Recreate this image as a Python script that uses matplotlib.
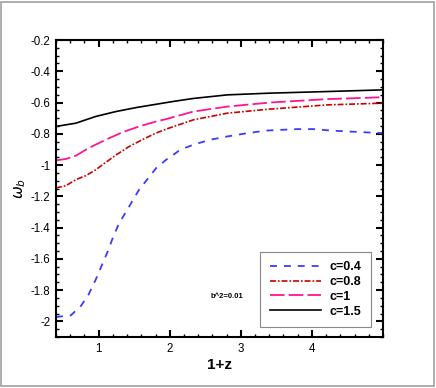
import numpy as np
import matplotlib
matplotlib.use("Agg")
import matplotlib.pyplot as plt
from matplotlib.patches import Rectangle
from matplotlib.ticker import MultipleLocator

plt.rcParams['font.family'] = ['Liberation Sans', 'DejaVu Sans']
plt.rcParams['lines.scale_dashes'] = False

# values
z_c04 = [0.40, 0.61, 0.75, 0.86, 0.96, 1.03, 1.13, 1.20, 1.29, 1.39, 1.50, 1.57,
         1.81, 1.95, 2.15, 2.33, 2.57, 2.81, 3.09, 3.37, 3.79, 4.02, 4.26, 4.50,
         4.82, 5.0]
w_c04 = [-1.972, -1.961, -1.902, -1.827, -1.732, -1.657, -1.551, -1.465, -1.370,
         -1.296, -1.210, -1.157, -1.019, -0.966, -0.902, -0.870, -0.838, -0.817,
         -0.796, -0.779, -0.770, -0.770, -0.779, -0.785, -0.792, -0.796]

z_c08 = [0.40, 0.54, 0.68, 0.82, 0.96, 1.10, 1.25, 1.43, 1.63, 1.81, 1.95, 2.33,
         2.81, 3.41, 4.22, 5.0]
w_c08 = [-1.146, -1.132, -1.093, -1.068, -1.030, -0.983, -0.934, -0.881, -0.834,
         -0.795, -0.770, -0.711, -0.668, -0.642, -0.615, -0.604]

z_c10 = [0.40, 0.54, 0.68, 0.86, 1.10, 1.34, 1.57, 1.81, 1.95, 2.33, 2.81, 3.41,
         4.22, 5.0]
w_c10 = [-0.970, -0.961, -0.940, -0.891, -0.838, -0.789, -0.753, -0.721, -0.706,
         -0.658, -0.626, -0.600, -0.578, -0.566]

z_c15 = [0.40, 0.68, 0.96, 1.25, 1.53, 1.81, 2.05, 2.33, 2.81, 3.41, 4.19, 5.0]
w_c15 = [-0.753, -0.732, -0.689, -0.657, -0.632, -0.611, -0.593, -0.574, -0.551,
         -0.540, -0.530, -0.519]

labels = ['c=0.4', 'c=0.8', 'c=1', 'c=1.5']

fig = plt.figure(figsize=(4.36, 3.88), dpi=100)
ax = fig.add_axes([0.1284, 0.1314, 0.75, 0.7655])

# dash lengths in points (1 px = 0.72 pt at 100 dpi)
ax.plot(z_c04, w_c04, color='#3b3bff', lw=1.3, dashes=(5.0, 5.0), label=labels[0])
ax.plot(z_c08, w_c08, color='#cc0000', lw=1.2, dashes=(4.3, 1.4, 1.2, 1.4), label=labels[1])
ax.plot(z_c10, w_c10, color='#ff1493', lw=1.3, dashes=(10.5, 3.0), label=labels[2])
ax.plot(z_c15, w_c15, color='black', lw=1.2, label=labels[3])

ax.set_xlim(0.4, 5.0)
ax.set_ylim(-2.1, -0.2)
ax.set_xticks([1, 2, 3, 4])
ax.set_yticks(np.arange(-2.0, -0.19, 0.2))
ax.set_yticklabels(['-2', '-1.8', '-1.6', '-1.4', '-1.2', '-1', '-0.8', '-0.6', '-0.4', '-0.2'])
ax.xaxis.set_minor_locator(MultipleLocator(0.2))
ax.yaxis.set_minor_locator(MultipleLocator(0.05))
ax.tick_params(which='both', direction='in', top=True, right=True, width=1.0)
ax.tick_params(which='major', length=5, width=1.5, labelsize=8.3, pad=4)
ax.tick_params(which='minor', length=2.5)
for s in ax.spines.values():
    s.set_linewidth(1.5)

ax.set_xlabel('1+z', fontsize=11, fontweight='bold')
ax.xaxis.set_label_coords(0.5, -0.07)
ax.set_ylabel(r'$\omega_b$', fontsize=11)
ax.yaxis.set_label_coords(-0.085, 0.5)
ax.text(0.523, 0.138, 'b^2=0.01', transform=ax.transAxes, fontsize=5.5,
        fontweight='bold', ha='center', va='center')

leg = ax.legend(loc='lower right', bbox_to_anchor=(0.963, 0.034), fancybox=False,
                edgecolor='#888888', framealpha=1, prop={'size': 9, 'weight': 'bold'},
                handlelength=4.1, handletextpad=0.7, labelspacing=0.22,
                borderpad=0.75, borderaxespad=0)
leg.get_frame().set_linewidth(0.8)

fig.patches.append(Rectangle((0.003, 0.004), 0.992, 0.992, transform=fig.transFigure,
                             fill=False, edgecolor='#a0a0a0', lw=1.2))

fig.savefig('out.png', dpi=100)
